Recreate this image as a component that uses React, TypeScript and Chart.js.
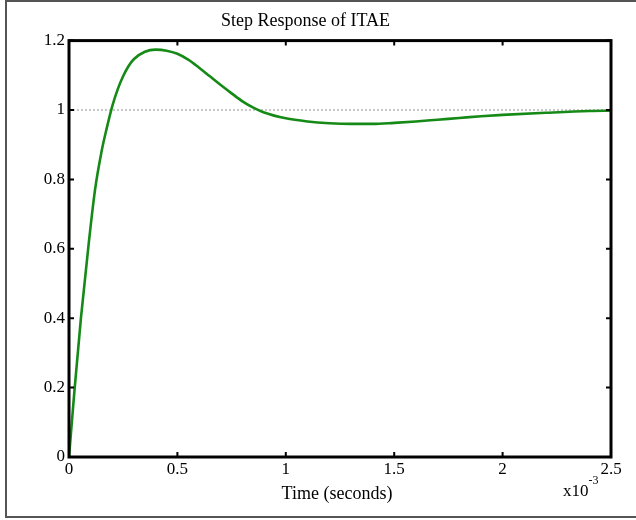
import React, { useEffect, useRef } from "react";
import { Chart, registerables } from "chart.js";

Chart.register(...registerables);

// Time in units of 1e-3 s
const timeMs = [
  0, 0.025, 0.055, 0.09, 0.12, 0.15, 0.175, 0.2, 0.225, 0.25, 0.275, 0.3, 0.35,
  0.4, 0.45, 0.5, 0.55, 0.6, 0.65, 0.7, 0.75, 0.8, 0.85, 0.9, 1.0, 1.1, 1.2,
  1.3, 1.4, 1.5, 1.6, 1.7, 1.8, 1.9, 2.0, 2.2, 2.4, 2.5,
];
const response = [
  0, 0.19, 0.4, 0.61, 0.77, 0.88, 0.95, 1.012, 1.06, 1.098, 1.127, 1.147, 1.168,
  1.174, 1.171, 1.162, 1.145, 1.122, 1.097, 1.072, 1.048, 1.025, 1.007, 0.993, 0.976, 0.967, 0.962,
  0.96, 0.96, 0.963, 0.967, 0.972, 0.977, 0.982, 0.986, 0.992, 0.997, 0.998,
];
const referenceX = [0, 2.5];
const referenceY = [1, 1];
const xTickValues = [0, 0.5, 1, 1.5, 2, 2.5];
const yTickValues = [0, 0.2, 0.4, 0.6, 0.8, 1, 1.2];
const titleText = "Step Response of ITAE";
const xLabel = "Time (seconds)";
const xExponent = "-3";

const SERIF = "'Liberation Serif', 'Times New Roman', serif";

export default function App() {
  const ref = useRef<HTMLCanvasElement | null>(null);

  useEffect(() => {
    if (!ref.current) return;

    const framePlugin = {
      id: "frame",
      afterDatasetsDraw(chart: any) {
        const { ctx, chartArea } = chart;
        const { left, right, top, bottom } = chartArea;
        const xs = chart.scales.x;
        const ys = chart.scales.y;
        ctx.save();
        ctx.strokeStyle = "#000";
        ctx.lineWidth = 2;
        const tl = 5;
        xTickValues.forEach((v) => {
          const px = xs.getPixelForValue(v);
          ctx.beginPath();
          ctx.moveTo(px, bottom);
          ctx.lineTo(px, bottom - tl);
          ctx.moveTo(px, top);
          ctx.lineTo(px, top + tl);
          ctx.stroke();
        });
        yTickValues.forEach((v) => {
          const py = ys.getPixelForValue(v);
          ctx.beginPath();
          ctx.moveTo(left, py);
          ctx.lineTo(left + tl, py);
          ctx.moveTo(right, py);
          ctx.lineTo(right - tl, py);
          ctx.stroke();
        });
        ctx.lineWidth = 3;
        ctx.strokeRect(left, top, right - left, bottom - top);
        ctx.restore();
      },
      afterDraw(chart: any) {
        const { ctx } = chart;
        ctx.save();
        ctx.strokeStyle = "#555";
        ctx.lineWidth = 2;
        ctx.strokeRect(6, 1, 640, 516);
        ctx.fillStyle = "#000";
        ctx.font = `18px ${SERIF}`;
        ctx.textAlign = "center";
        ctx.textBaseline = "middle";
        ctx.fillText(xLabel, 337, 494);
        ctx.textAlign = "left";
        ctx.font = `17px ${SERIF}`;
        ctx.fillText("x10", 563, 492);
        const w = ctx.measureText("x10").width;
        ctx.font = `12px ${SERIF}`;
        ctx.fillText(xExponent, 563 + w, 481);
        ctx.restore();
      },
    };

    const chart = new Chart(ref.current, {
      type: "line",
      data: {
        datasets: [
          {
            label: "ITAE",
            data: timeMs.map((t, i) => ({ x: t, y: response[i] })),
            borderColor: "#168a16",
            borderWidth: 2.6,
            pointRadius: 0,
            cubicInterpolationMode: "monotone",
            fill: false,
            order: 0,
          },
          {
            label: "ref",
            data: referenceX.map((t, i) => ({ x: t, y: referenceY[i] })),
            borderColor: "#c8c8c8",
            borderWidth: 2,
            borderDash: [2, 2],
            pointRadius: 0,
            fill: false,
            order: 1,
          },
        ],
      },
      options: {
        responsive: false,
        animation: false,
        layout: { padding: { left: 0, right: 25, top: 0, bottom: 0 } },
        plugins: {
          legend: { display: false },
          tooltip: { enabled: false },
          title: {
            display: true,
            text: titleText,
            color: "#000",
            font: { family: SERIF, size: 18, weight: "normal" },
            padding: { top: 10, bottom: 9 },
          },
        },
        scales: {
          x: {
            type: "linear",
            min: 0,
            max: 2.5,
            afterFit: (s: any) => {
              s.height = 63;
            },
            afterBuildTicks: (s: any) => {
              s.ticks = xTickValues.map((v) => ({ value: v }));
            },
            ticks: {
              color: "#000",
              font: { family: SERIF, size: 17 },
              padding: 2,
              maxRotation: 0,
              autoSkip: false,
              callback: (v: any) => String(Math.round(Number(v) * 10) / 10),
            },
            grid: { display: false, drawTicks: false },
            border: { display: false },
          },
          y: {
            type: "linear",
            min: 0,
            max: 1.2,
            afterFit: (s: any) => {
              s.width = 69;
            },
            afterBuildTicks: (s: any) => {
              s.ticks = yTickValues.map((v) => ({ value: v }));
            },
            ticks: {
              color: "#000",
              font: { family: SERIF, size: 17 },
              padding: 4,
              autoSkip: false,
              callback: (v: any) => String(Math.round(Number(v) * 10) / 10),
            },
            grid: { display: false, drawTicks: false },
            border: { display: false },
          },
        },
      },
      plugins: [framePlugin],
    } as any);

    return () => chart.destroy();
  }, []);

  return (
    <div style={{ position: "fixed", left: 0, top: 0, width: 636, height: 520, background: "#fff" }}>
      <canvas ref={ref} width={636} height={520} style={{ width: 636, height: 520 }} />
    </div>
  );
}
